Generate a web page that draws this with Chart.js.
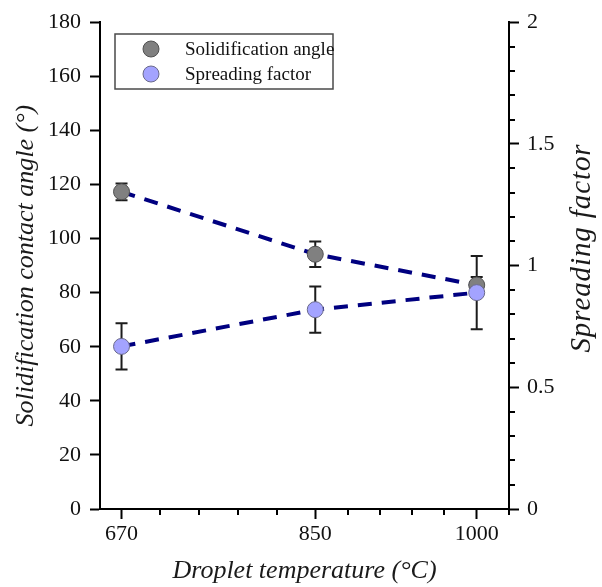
<!DOCTYPE html>
<html>
<head>
<meta charset="utf-8">
<title>Droplet temperature</title>
<script src="https://cdn.jsdelivr.net/npm/chart.js@4.4.0/dist/chart.umd.min.js"></script>
<style>
    html, body { margin: 0; padding: 0; background: #fff; }
    #container-wrapper { width: 602px; height: 587px; }
</style>
</head>
<body>
<div id="container-wrapper"><canvas id="myChart" width="602" height="587"></canvas></div>
<script>
    // values
    var temperatures = [670, 850, 1000];
    var contactAngle = [117.3, 94.2, 82.8];
    var contactAngleErr = [3.1, 4.7, 3];
    var spreadingFactor = [0.668, 0.819, 0.889];
    var spreadingFactorErr = [0.095, 0.095, 0.15];

    var seriesNames = ['Solidification angle', 'Spreading factor'];

    var xTicks = [670, 850, 1000];
    var xMinorTicks = [706, 742, 778, 814, 880, 910, 940, 970, 1030];
    var leftTicks = [0, 20, 40, 60, 80, 100, 120, 140, 160, 180];
    var rightTicks = [0, 0.5, 1, 1.5, 2];
    var rightTickLabels = ['0', '0.5', '1', '1.5', '2'];
    var rightMinorTicks = [0.1, 0.2, 0.3, 0.4, 0.6, 0.7, 0.8, 0.9, 1.1, 1.2, 1.3, 1.4, 1.6, 1.7, 1.8, 1.9];

    var serif = "'Liberation Serif', 'Times New Roman', serif";
    var grayFill = '#808080';
    var blueFill = '#a3a3ff';

    function toPoints(values){
        return temperatures.map(function(t, i){ return {x: t, y: values[i]}; });
    }

    var errorBars = {
        id: 'errorBars',
        beforeDatasetsDraw: function(chart){
            var ctx = chart.ctx;
            var x = chart.scales.x;
            var sets = [
                [chart.scales.y, contactAngle, contactAngleErr],
                [chart.scales.y2, spreadingFactor, spreadingFactorErr]
            ];
            ctx.save();
            ctx.strokeStyle = '#1c1c1c';
            ctx.lineWidth = 2;
            sets.forEach(function(s){
                var scale = s[0];
                s[1].forEach(function(v, i){
                    var px = x.getPixelForValue(temperatures[i]);
                    var top = scale.getPixelForValue(v + s[2][i]);
                    var bot = scale.getPixelForValue(v - s[2][i]);
                    ctx.beginPath();
                    ctx.moveTo(px, top); ctx.lineTo(px, bot);
                    ctx.moveTo(px - 6, top); ctx.lineTo(px + 6, top);
                    ctx.moveTo(px - 6, bot); ctx.lineTo(px + 6, bot);
                    ctx.stroke();
                });
            });
            ctx.restore();
        }
    };

    var extras = {
        id: 'extras',
        afterDraw: function(chart){
            var ctx = chart.ctx;
            var x = chart.scales.x;
            var y2 = chart.scales.y2;
            var area = chart.chartArea;
            ctx.save();
            // minor ticks
            ctx.strokeStyle = '#000';
            ctx.lineWidth = 2;
            ctx.beginPath();
            xMinorTicks.forEach(function(v){
                var px = Math.round(x.getPixelForValue(v));
                ctx.moveTo(px, area.bottom); ctx.lineTo(px, area.bottom + 6);
            });
            rightMinorTicks.forEach(function(v){
                var py = Math.round(y2.getPixelForValue(v));
                ctx.moveTo(area.right, py); ctx.lineTo(area.right + 6, py);
            });
            ctx.stroke();

            // right title, read bottom to top
            ctx.fillStyle = '#1a1a1a';
            ctx.font = 'italic 29px ' + serif;
            ctx.letterSpacing = '0.9px';
            ctx.textAlign = 'center';
            ctx.textBaseline = 'middle';
            ctx.translate(582, 248);
            ctx.rotate(-Math.PI / 2);
            ctx.fillText(seriesNames[1], 0, 0);
            ctx.restore();

            // legend box
            ctx.save();
            ctx.strokeStyle = '#4a4a4a';
            ctx.lineWidth = 1.5;
            ctx.strokeRect(115, 34, 218, 55);
            var fills = [grayFill, blueFill];
            var borders = ['#505050', '#6a6a8a'];
            ctx.font = '19px ' + serif;
            ctx.textAlign = 'left';
            ctx.textBaseline = 'middle';
            seriesNames.forEach(function(name, i){
                var cy = 49 + i * 25;
                ctx.beginPath();
                ctx.arc(151, cy, 8, 0, Math.PI * 2);
                ctx.fillStyle = fills[i];
                ctx.fill();
                ctx.lineWidth = 1;
                ctx.strokeStyle = borders[i];
                ctx.stroke();
                ctx.fillStyle = '#111';
                ctx.fillText(name, 185, cy + 1);
            });
            ctx.restore();
        }
    };

    var tickFont = {family: serif, size: 22};
    var titleFont = {family: serif, size: 26, style: 'italic'};
    var axisGrid = {display: true, drawOnChartArea: false, drawTicks: true, tickLength: 10, tickWidth: 2, tickColor: '#000'};
    var axisBorder = {display: true, color: '#000', width: 2};

    var myChart = new Chart(document.getElementById('myChart'), {
        type: 'line',
        data: {
            datasets: [{
                label: seriesNames[0],
                data: toPoints(contactAngle),
                yAxisID: 'y',
                order: 1,
                borderColor: '#000080',
                borderWidth: 4,
                borderDash: [14, 10],
                tension: 0,
                pointRadius: 8,
                pointBackgroundColor: grayFill,
                pointBorderColor: '#505050',
                pointBorderWidth: 1
            }, {
                label: seriesNames[1],
                data: toPoints(spreadingFactor),
                yAxisID: 'y2',
                order: 0,
                borderColor: '#000080',
                borderWidth: 4,
                borderDash: [14, 10],
                tension: 0,
                pointRadius: 8,
                pointBackgroundColor: blueFill,
                pointBorderColor: '#6a6a8a',
                pointBorderWidth: 1
            }]
        },
        options: {
            responsive: false,
            animation: false,
            devicePixelRatio: 1,
            layout: {padding: {top: 18, left: 0, right: 0, bottom: 0}},
            plugins: {legend: {display: false}, tooltip: {enabled: false}},
            scales: {
                x: {
                    type: 'linear', min: 650, max: 1030,
                    afterBuildTicks: function(axis){ axis.ticks = xTicks.map(function(v){ return {value: v}; }); },
                    afterFit: function(axis){ axis.height = 78; },
                    border: axisBorder,
                    grid: axisGrid,
                    ticks: {color: '#111', font: tickFont, padding: 2, maxRotation: 0, autoSkip: false,
                        callback: function(v){ return String(v); }},
                    title: {display: true, text: 'Droplet temperature (°C)', color: '#1a1a1a', font: titleFont,
                        padding: {top: 0, bottom: 0}}
                },
                y: {
                    type: 'linear', position: 'left', min: 0, max: 180,
                    afterBuildTicks: function(axis){ axis.ticks = leftTicks.map(function(v){ return {value: v}; }); },
                    afterFit: function(axis){ axis.width = 100; },
                    border: axisBorder,
                    grid: axisGrid,
                    ticks: {color: '#111', font: tickFont, padding: 9, callback: function(v){ return String(v); }},
                    title: {display: true, text: 'Solidification contact angle (°)', color: '#1a1a1a', font: titleFont,
                        padding: {top: 11, bottom: 0}}
                },
                y2: {
                    type: 'linear', position: 'right', min: 0, max: 2,
                    afterBuildTicks: function(axis){ axis.ticks = rightTicks.map(function(v){ return {value: v}; }); },
                    afterFit: function(axis){ axis.width = 93; },
                    border: axisBorder,
                    grid: axisGrid,
                    ticks: {color: '#111', font: tickFont, padding: 8,
                        callback: function(v){ return rightTickLabels[rightTicks.indexOf(v)]; }}
                }
            }
        },
        plugins: [errorBars, extras]
    });
</script>
</body>
</html>
